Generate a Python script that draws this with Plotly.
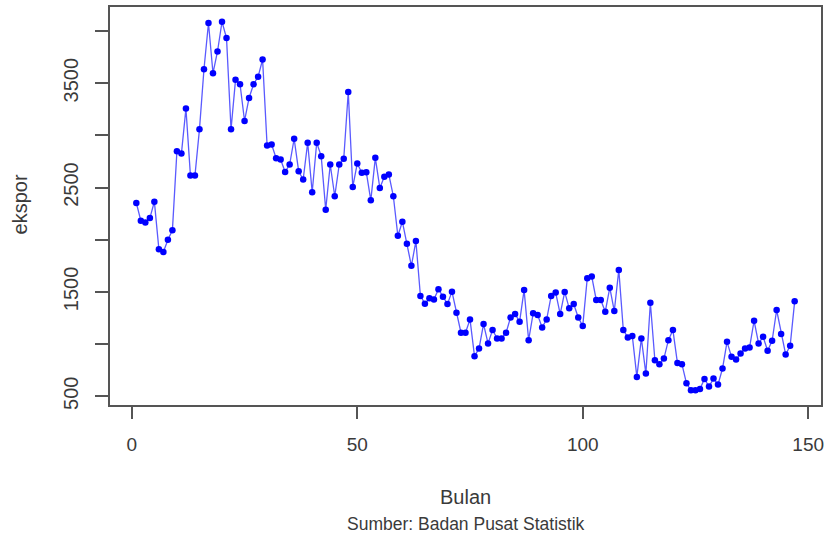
import plotly.graph_objects as go

bulan = list(range(1, 148))
ekspor = [
    2353, 2183, 2166, 2208, 2365, 1910, 1882, 2000, 2090, 2849,
    2827, 3257, 2615, 2615, 3058, 3634, 4077, 3596, 3804, 4089,
    3933, 3058, 3532, 3490, 3138, 3359, 3490, 3561, 3727, 2904,
    2913, 2782, 2769, 2650, 2721, 2968, 2657, 2577, 2930, 2455,
    2930, 2801, 2288, 2721, 2417, 2721, 2776, 3416, 2506, 2731,
    2641, 2647, 2378, 2785, 2497, 2603, 2625, 2417, 2038, 2173,
    1961, 1750, 1987, 1462, 1388, 1439, 1427, 1527, 1455, 1385,
    1503, 1301, 1109, 1109, 1237, 885, 959, 1192, 1007, 1135,
    1055, 1055, 1109, 1256, 1288, 1215, 1519, 1038, 1295, 1279,
    1160, 1237, 1462, 1494, 1288, 1500, 1343, 1385, 1256, 1173,
    1631, 1647, 1423, 1423, 1311, 1541, 1317, 1711, 1135, 1064,
    1077, 686, 1055, 718, 1397, 846, 808, 862, 1038, 1135,
    820, 808, 625, 558, 558, 570, 667, 593, 670, 612,
    766, 1022, 878, 853, 910, 959, 968, 1224, 1007, 1070,
    936, 1032, 1327, 1096, 901, 984, 1410,
]

x_ticks = [0, 50, 100, 150]
y_ticks = [500, 1000, 1500, 2000, 2500, 3000, 3500, 4000]
y_ticktext = ["500", "", "1500", "", "2500", "", "3500", ""]

def r_range(vals):
    lo, hi = min(vals), max(vals)
    pad = (hi - lo) * 0.04
    return [lo - pad, hi + pad]

AX = "#555555"
TXT = "#3a3a3a"
FONT = "Liberation Sans, Arial, sans-serif"

fig = go.Figure()
fig.add_trace(go.Scatter(
    x=bulan, y=ekspor, mode="lines+markers",
    line=dict(color="#5a5aff", width=1.3),
    marker=dict(color="#0000ff", size=6.5),
    showlegend=False,
))

fig.update_layout(
    width=829, height=537,
    margin=dict(l=110, r=5, t=7, b=132),
    paper_bgcolor="white", plot_bgcolor="white",
    font=dict(family=FONT, size=18, color=TXT),
    xaxis=dict(
        range=r_range(bulan), tickvals=x_ticks, ticktext=[str(v) for v in x_ticks],
        showgrid=False, zeroline=False, showline=True, mirror=True,
        linecolor=AX, linewidth=1.5, ticks="outside", ticklen=12,
        tickcolor=AX, tickwidth=1.5, ticklabelstandoff=9,
        tickfont=dict(size=19, color=TXT),
    ),
    yaxis=dict(
        range=r_range(ekspor), tickvals=y_ticks, ticktext=y_ticktext,
        showgrid=False, zeroline=False, showline=True, mirror=True,
        linecolor=AX, linewidth=1.5, ticks="outside", ticklen=13,
        tickcolor=AX, tickwidth=1.5, tickangle=-90, ticklabelstandoff=9,
        tickfont=dict(size=20, color=TXT),
    ),
    annotations=[
        dict(text="ekspor", xref="paper", yref="paper", x=-0.126, y=0.505,
             textangle=-90, showarrow=False, xanchor="center", yanchor="middle",
             font=dict(size=20, color=TXT)),
        dict(text="Bulan", xref="paper", yref="paper", x=0.5, y=-0.232,
             showarrow=False, xanchor="center", yanchor="middle",
             font=dict(size=20, color=TXT)),
        dict(text="Sumber: Badan Pusat Statistik", xref="paper", yref="paper",
             x=0.5, y=-0.298, showarrow=False, xanchor="center", yanchor="middle",
             font=dict(size=17.5, color=TXT)),
    ],
)

fig.write_html("out.html")
